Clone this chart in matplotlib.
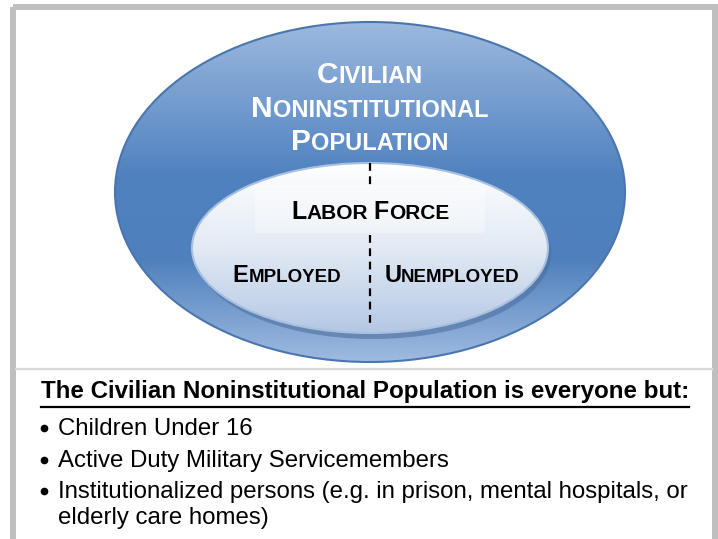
import numpy as np
import matplotlib
matplotlib.use("Agg")
import matplotlib.pyplot as plt
from matplotlib.patches import Ellipse, Rectangle
from matplotlib.colors import LinearSegmentedColormap
from matplotlib.offsetbox import TextArea, HPacker, AnnotationBbox

# Texte des Diagramms
outer_title = ["Civilian", "Noninstitutional", "Population"]
inner_title = ["Labor", "Force"]
split_labels = ["Employed", "Unemployed"]
heading = "The Civilian Noninstitutional Population is everyone but:"
bullets = ["Children Under 16",
           "Active Duty Military Servicemembers",
           "Institutionalized persons (e.g. in prison, mental hospitals, or\nelderly care homes)"]

FONT = "Liberation Sans"


def small_caps(ax, text, x, y, big, small, color):
    # Kapitälchen: erster Buchstabe gross, Rest kleiner
    parts = []
    for i, word in enumerate(text.split()):
        if i > 0:
            parts.append(TextArea(" ", textprops=dict(size=small, weight="bold", family=FONT)))
        parts.append(TextArea(word[0].upper(), textprops=dict(size=big, weight="bold", color=color, family=FONT)))
        parts.append(TextArea(word[1:].upper(), textprops=dict(size=small, weight="bold", color=color, family=FONT)))
    box = HPacker(children=parts, align="baseline", pad=0, sep=0)
    ab = AnnotationBbox(box, (x, y), frameon=False, box_alignment=(0.5, 0.5), zorder=10)
    ax.add_artist(ab)


def gradient_ellipse(ax, cx, cy, w, h, colors, edge, zorder):
    ell = Ellipse((cx, cy), w, h, facecolor="none", edgecolor=edge, lw=1.5, zorder=zorder + 0.5)
    ax.add_patch(ell)
    cmap = LinearSegmentedColormap.from_list("g", colors)
    grad = np.linspace(0, 1, 256).reshape(-1, 1)
    im = ax.imshow(grad, cmap=cmap, aspect="auto", zorder=zorder,
                   extent=(cx - w / 2, cx + w / 2, cy + h / 2, cy - h / 2))
    im.set_clip_path(ell)


fig = plt.figure(figsize=(7.18, 5.39), dpi=100)
ax = fig.add_axes([0, 0, 1, 1])
ax.set_xlim(0, 718)
ax.set_ylim(539, 0)
ax.axis("off")

# Rahmen und Trennlinie
ax.add_patch(Rectangle((13, 7), 702, 560, facecolor="none", edgecolor="#bfbfbf", lw=4.3, zorder=1))
ax.plot([16, 712], [369, 369], color="#d9d9d9", lw=1.6, zorder=1)

# äussere Ellipse
gradient_ellipse(ax, 370, 192, 510, 340,
                 [(0, "#9cb9de"), (0.45, "#5082c0"), (0.7, "#4f80bd"), (1, "#9fbbe0")],
                 "#4a76b0", 2)

# Schatten + innere Ellipse
ax.add_patch(Ellipse((373, 253), 356, 172, facecolor="#4a6b9a", alpha=0.55, edgecolor="none", zorder=3))
gradient_ellipse(ax, 370, 248, 356, 170,
                 [(0, "#ffffff"), (0.5, "#e2eaf4"), (1, "#b4c8e4")],
                 "#a9c0e0", 4)

# heller Kasten hinter "Labor Force"
ax.add_patch(Rectangle((255, 185), 230, 48, facecolor="white", alpha=0.35, edgecolor="none", zorder=6))

# gestrichelte Trennlinie
ax.plot([370, 370], [163, 185], color="black", lw=1.6, ls=(0, (3.5, 2.5)), zorder=5)
ax.plot([370, 370], [235, 325], color="black", lw=1.6, ls=(0, (3.5, 2.5)), zorder=5)

# Beschriftungen
for txt, y in zip(outer_title, [75, 109, 142]):
    small_caps(ax, txt, 370, y, 21.5, 17, "white")
small_caps(ax, " ".join(inner_title), 370, 212, 18, 15, "black")
small_caps(ax, split_labels[0], 287, 275, 17, 13.5, "black")
small_caps(ax, split_labels[1], 452, 275, 17, 13.5, "black")

# Text unten
ht = ax.text(365, 398, heading, ha="center", va="baseline", fontsize=17.4, weight="bold", family=FONT)
fig.canvas.draw()
bb = ht.get_window_extent().transformed(ax.transData.inverted())
ax.plot([bb.x0, bb.x1], [407, 407], color="black", lw=1.6)

for txt, y in zip(bullets, [435, 467, 498]):
    ax.plot(44, y - 7, "o", color="black", ms=4.5)
    ax.text(58, y, txt.split("\n")[0], ha="left", va="baseline", fontsize=17.3, family=FONT)
    if "\n" in txt:
        ax.text(58, y + 26, txt.split("\n")[1], ha="left", va="baseline", fontsize=17.3, family=FONT)

fig.savefig("out.png", dpi=100)
